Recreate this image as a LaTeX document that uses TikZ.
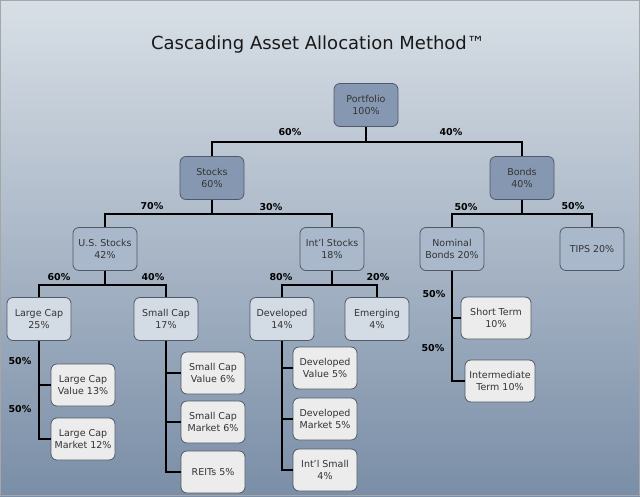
\documentclass[tikz,border=0pt]{standalone}
\usepackage{fontspec}
\setmainfont{DejaVu Sans}
\usetikzlibrary{positioning,calc}
\definecolor{bgtop}{HTML}{D8DFE6}
\definecolor{bgbot}{HTML}{7A8EA7}
\definecolor{hubfill}{HTML}{8698B1}
\definecolor{grpfill}{HTML}{A9B8CB}
\definecolor{subfill}{HTML}{D3DBE5}
\definecolor{leaffill}{HTML}{ECECEC}
\definecolor{edge}{HTML}{505A66}
\definecolor{ink}{HTML}{333333}

\begin{document}
\begin{tikzpicture}[
  x=1pt, y=-1pt,
  box/.style={draw=edge, line width=0.8pt, rounded corners=6pt, minimum width=64pt,
              minimum height=43pt, align=center, text=ink,
              font=\fontsize{9.5}{12.5}\selectfont},
  hub/.style={box, fill=hubfill},
  grp/.style={box, fill=grpfill},
  sub/.style={box, fill=subfill},
  leaf/.style={box, fill=leaffill, minimum height=42pt},
  link/.style={line width=2.2pt, black},
  pct/.style={font=\fontsize{9.5}{11}\selectfont\bfseries, text=black}
]
\useasboundingbox (0,0) rectangle (640,496);
\shade[top color=bgtop, bottom color=bgbot] (0,0) rectangle (640,496);
\draw[gray!70, line width=1pt] (0.5,0.5) rectangle (639.5,495.5);
\node[font=\fontsize{18}{22}\selectfont, text=black!90] (T) at (318,45) {Cascading Asset Allocation Method™};
% levels 0 and 1
\node[hub] (PF) at (366,105) {Portfolio\\100\%};
\node[hub] (ST) at (212,178) {Stocks\\60\%};
\node[hub] (BD) at (522,178) {Bonds\\40\%};
% level 2
\node[grp] (US) at (105,249) {U.S. Stocks\\42\%};
\node[grp] (IS) at (332,249) {Int'l Stocks\\18\%};
\node[grp] (NB) at (452,249) {Nominal\\Bonds 20\%};
\node[grp] (TP) at (592,249) {TIPS 20\%};
% level 3
\node[sub] (LC) at (39,319) {Large Cap\\25\%};
\node[sub] (SC) at (166,319) {Small Cap\\17\%};
\node[sub] (DV) at (282,319) {Developed\\14\%};
\node[sub] (EM) at (377,319) {Emerging\\4\%};
% leaves
\node[leaf] (LCV) at (83,385) {Large Cap\\Value 13\%};
\node[leaf] (LCM) at (83,439) {Large Cap\\Market 12\%};
\node[leaf] (SCV) at (213,373) {Small Cap\\Value 6\%};
\node[leaf] (SCM) at (213,422) {Small Cap\\Market 6\%};
\node[leaf] (RE) at (213,472) {REITs 5\%};
\node[leaf] (DVV) at (325,368) {Developed\\Value 5\%};
\node[leaf] (DVM) at (325,419) {Developed\\Market 5\%};
\node[leaf] (ISM) at (325,470) {Int'l Small\\4\%};
\node[leaf, minimum width=70pt] (STB) at (496,318) {Short Term\\10\%};
\node[leaf, minimum width=70pt] (ITB) at (500,381) {Intermediate\\Term 10\%};
% branches
\draw[link] (PF.south) -- ++(0,15) coordinate (b0);
\draw[link] (ST.north) |- (b0) -| (BD.north);
\draw[link] (ST.south) -- ++(0,14) coordinate (b1);
\draw[link] (US.north) |- (b1) -| (IS.north);
\draw[link] (BD.south) -- ++(0,14) coordinate (b2);
\draw[link] (NB.north) |- (b2) -| (TP.north);
\draw[link] (US.south) -- ++(0,14) coordinate (b3);
\draw[link] (LC.north) |- (b3) -| (SC.north);
\draw[link] (IS.south) -- ++(0,14) coordinate (b4);
\draw[link] (DV.north) |- (b4) -| (EM.north);
% trunks
\draw[link] (LC.south) |- (LCV.west);
\draw[link] (LC.south) |- (LCM.west);
\draw[link] (SC.south) |- (SCV.west);
\draw[link] (SC.south) |- (SCM.west);
\draw[link] (SC.south) |- (RE.west);
\draw[link] (DV.south) |- (DVV.west);
\draw[link] (DV.south) |- (DVM.west);
\draw[link] (DV.south) |- (ISM.west);
\draw[link] (NB.south) |- (STB.west);
\draw[link] (NB.south) |- (ITB.west);
% percentages
\node[pct] (p1) at (290,132) {60\%};
\node[pct] (p2) at (451,132) {40\%};
\node[pct] (p3) at (152,206) {70\%};
\node[pct] (p4) at (271,207) {30\%};
\node[pct] (p5) at (466,207) {50\%};
\node[pct] (p6) at (573,206) {50\%};
\node[pct] (p7) at (59,277) {60\%};
\node[pct] (p8) at (153,277) {40\%};
\node[pct] (p9) at (281,277) {80\%};
\node[pct] (p10) at (378,277) {20\%};
\node[pct] (p11) at (20,361) {50\%};
\node[pct] (p12) at (20,409) {50\%};
\node[pct] (p13) at (434,294) {50\%};
\node[pct] (p14) at (433,348) {50\%};
\end{tikzpicture}
\end{document}
